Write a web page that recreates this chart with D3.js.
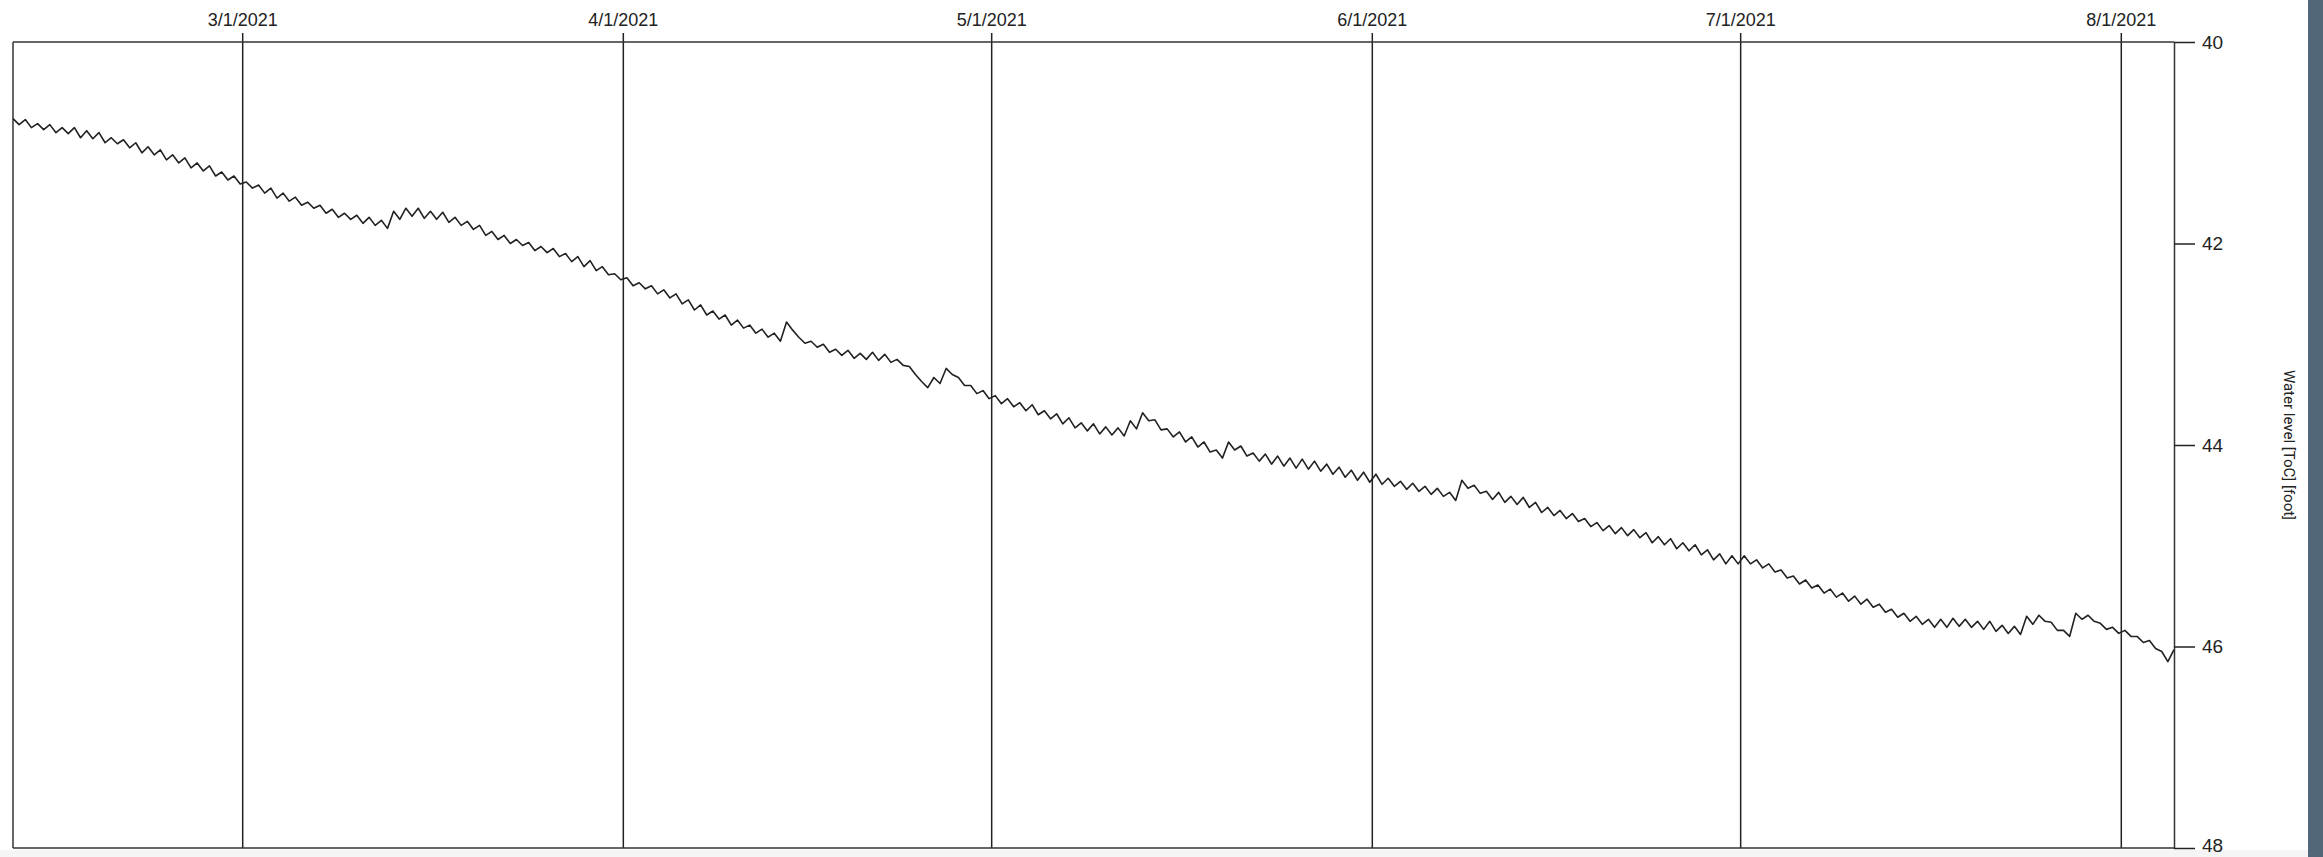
<!DOCTYPE html>
<html>
<head>
<meta charset="utf-8">
<script src="https://cdn.jsdelivr.net/npm/d3@7"></script>
<style>
  body { margin: 0; background: #fff; }
  svg { display: block; font-family: Roboto, "Open Sans", sans-serif; }
</style>
</head>
<body>
<div id="chart"></div>
<script>
// water level readings, every 12 hours from 2021-02-10 08:00 (foot below top of casing)
const startTime = new Date(2021, 1, 10, 8)
const endTime = new Date(2021, 7, 5, 8)
const stepHours = 12
const levels = [
  40.76, 40.82, 40.77, 40.85, 40.81, 40.87, 40.82, 40.90, 40.85, 40.91,
  40.85, 40.95, 40.88, 40.96, 40.90, 41.00, 40.95, 41.01, 40.97, 41.05,
  41.00, 41.10, 41.04, 41.12, 41.07, 41.17, 41.12, 41.20, 41.15, 41.25,
  41.20, 41.28, 41.23, 41.33, 41.29, 41.37, 41.33, 41.41,
  41.39, 41.45, 41.42, 41.50, 41.45, 41.55, 41.50, 41.58, 41.54, 41.62,
  41.59, 41.65, 41.62, 41.70, 41.66, 41.74, 41.70, 41.76, 41.72, 41.80,
  41.74, 41.82, 41.77, 41.85, 41.68, 41.76, 41.65, 41.73, 41.65, 41.75,
  41.68, 41.76, 41.69, 41.79, 41.74, 41.82, 41.78, 41.86, 41.82, 41.92,
  41.88, 41.96, 41.92, 42.00, 41.96, 42.02, 41.99, 42.07, 42.03, 42.09,
  42.05, 42.13, 42.10, 42.18, 42.13, 42.23, 42.17, 42.27, 42.23, 42.31,
  42.30, 42.36,
  42.34, 42.42, 42.39, 42.45, 42.42, 42.50, 42.46, 42.54, 42.50, 42.60,
  42.56, 42.66, 42.61, 42.71, 42.67, 42.75, 42.71, 42.81, 42.76, 42.84,
  42.81, 42.89, 42.85, 42.93, 42.89, 42.97, 42.78, 42.86, 42.93, 42.99,
  42.97, 43.03, 43.00, 43.08, 43.05, 43.11, 43.06, 43.14, 43.09, 43.15,
  43.08, 43.16, 43.10, 43.18, 43.15, 43.21, 43.22, 43.30, 43.37, 43.43,
  43.33, 43.39, 43.24, 43.30, 43.33, 43.41, 43.41, 43.49, 43.46, 43.54,
  43.51, 43.59, 43.54, 43.62, 43.58, 43.66, 43.60, 43.70, 43.66, 43.74,
  43.69, 43.79, 43.73, 43.83, 43.78, 43.86, 43.79, 43.89, 43.82, 43.90,
  43.83, 43.91, 43.76, 43.84, 43.68, 43.76, 43.75, 43.85, 43.84, 43.92,
  43.87, 43.97, 43.92, 44.02, 43.97, 44.07, 44.05, 44.13, 43.97, 44.05,
  44.01, 44.11, 44.08, 44.16, 44.09, 44.19, 44.11, 44.21, 44.13, 44.23,
  44.14, 44.24, 44.16, 44.26, 44.19, 44.29, 44.22, 44.32, 44.25, 44.35,
  44.27, 44.37,
  44.29, 44.39, 44.33, 44.41, 44.36, 44.44, 44.38, 44.46, 44.41, 44.49,
  44.43, 44.51, 44.47, 44.55, 44.35, 44.43, 44.40, 44.48, 44.46, 44.54,
  44.47, 44.57, 44.51, 44.59, 44.52, 44.62, 44.57, 44.67, 44.62, 44.70,
  44.65, 44.73, 44.68, 44.76, 44.73, 44.81, 44.77, 44.85, 44.80, 44.88,
  44.82, 44.90, 44.84, 44.92, 44.87, 44.97, 44.91, 44.99, 44.93, 45.03,
  44.97, 45.05, 44.99, 45.09, 45.04, 45.14, 45.08, 45.18, 45.10, 45.18,
  45.10, 45.18, 45.14, 45.22, 45.18, 45.26, 45.24, 45.32, 45.30, 45.38,
  45.34, 45.42, 45.39, 45.47, 45.43, 45.51, 45.47, 45.55, 45.50, 45.58,
  45.53, 45.61, 45.58, 45.66, 45.63, 45.71, 45.67, 45.75, 45.70, 45.78,
  45.73, 45.81, 45.73, 45.81, 45.72, 45.80, 45.73, 45.81, 45.75, 45.83,
  45.75, 45.85, 45.79, 45.87, 45.80, 45.88, 45.70, 45.78, 45.69, 45.75,
  45.76, 45.84, 45.84, 45.90, 45.67, 45.73, 45.69, 45.75, 45.77, 45.83,
  45.81, 45.87,
  45.84, 45.90, 45.90, 45.96, 45.94, 46.02, 46.05, 46.15, 46.03
]
const yDomain = [40, 48]
const yTicks = [40, 42, 44, 46, 48]
const yLabel = "Water level [ToC] [foot]"

const data = levels.map((v, i) => ({
  date: d3.timeHour.offset(startTime, i * stepHours),
  value: v
}))

const width = 2323, height = 857
const plotLeft = 13, plotRight = 2174, plotTop = 42, plotBottom = 848

const svg = d3.select("#chart")
  .append("svg")
  .attr("width", width)
  .attr("height", height)

svg.append("rect")
  .attr("x", 0).attr("y", 0)
  .attr("width", width).attr("height", height)
  .attr("fill", "#fff")

// faint strip under the plot and dark band on the right edge
svg.append("rect")
  .attr("x", 0).attr("y", 850)
  .attr("width", 2308).attr("height", height - 850)
  .attr("fill", "#f5f5f5")
svg.append("rect")
  .attr("x", 2308).attr("y", 0)
  .attr("width", width - 2308).attr("height", height)
  .attr("fill", "#53677a")

const x = d3.scaleTime()
  .domain([startTime, endTime])
  .range([plotLeft, plotRight])

const y = d3.scaleLinear()
  .domain(yDomain)
  .range([plotTop, plotBottom])

// month lines + labels on top
const xAxis = svg.append("g")
  .attr("transform", "translate(0," + plotTop + ")")
  .call(d3.axisTop(x)
    .ticks(d3.timeMonth.every(1))
    .tickFormat(d3.timeFormat("%-m/%-d/%Y"))
    .tickSize(9)
    .tickPadding(7))
xAxis.select(".domain").remove()
xAxis.selectAll(".tick line")
  .attr("y1", plotBottom - plotTop)
  .attr("stroke", "#222")
  .attr("stroke-width", 1.5)
xAxis.selectAll(".tick text")
  .attr("fill", "#222")
  .style("font-size", "18px")

// frame: left, top, bottom
svg.append("line")
  .attr("x1", plotLeft).attr("x2", plotLeft)
  .attr("y1", plotTop).attr("y2", plotBottom)
  .attr("stroke", "#333").attr("stroke-width", 1.5)
svg.append("line")
  .attr("x1", plotLeft).attr("x2", plotRight)
  .attr("y1", plotTop).attr("y2", plotTop)
  .attr("stroke", "#333").attr("stroke-width", 1.5)
svg.append("line")
  .attr("x1", plotLeft).attr("x2", plotRight)
  .attr("y1", plotBottom).attr("y2", plotBottom)
  .attr("stroke", "#333").attr("stroke-width", 1.5)

// right value axis
const yAxis = svg.append("g")
  .attr("transform", "translate(" + plotRight + ",0)")
  .call(d3.axisRight(y)
    .tickValues(yTicks)
    .tickSize(21)
    .tickSizeOuter(0)
    .tickPadding(7))
yAxis.select(".domain")
  .attr("stroke", "#333").attr("stroke-width", 1.5)
yAxis.selectAll(".tick line")
  .attr("stroke", "#222").attr("stroke-width", 1.5)
yAxis.selectAll(".tick text")
  .attr("fill", "#222")
  .style("font-size", "19px")
  .attr("dy", d => d == yDomain[1] ? "0.18em" : "0.32em")  // keep bottom label inside the page

svg.append("text")
  .attr("transform", "translate(2284," + ((plotTop + plotBottom) / 2) + ") rotate(90)")
  .attr("text-anchor", "middle")
  .attr("fill", "#222")
  .style("font-size", "15px")
  .text(yLabel)

const line = d3.line()
  .x(d => x(d.date))
  .y(d => y(d.value))

svg.append("path")
  .datum(data)
  .attr("fill", "none")
  .attr("stroke", "#222")
  .attr("stroke-width", 1.6)
  .attr("stroke-linejoin", "round")
  .attr("d", line)
</script>
</body>
</html>
